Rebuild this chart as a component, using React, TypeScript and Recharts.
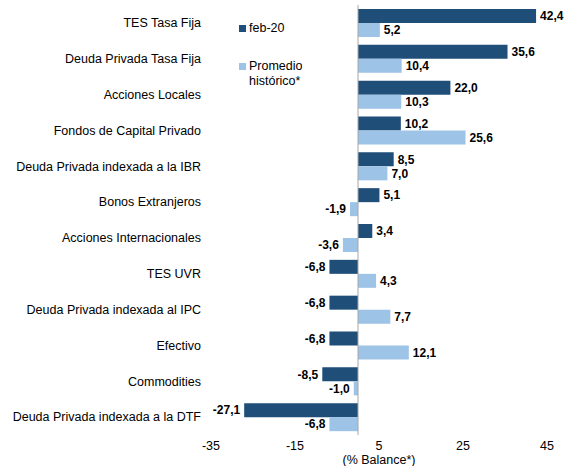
import React from 'react';
import {
  BarChart,
  Bar,
  XAxis,
  YAxis,
  ReferenceLine,
  LabelList,
} from 'recharts';

const categories = [
  'TES Tasa Fija',
  'Deuda Privada Tasa Fija',
  'Acciones Locales',
  'Fondos de Capital Privado',
  'Deuda Privada indexada a la IBR',
  'Bonos Extranjeros',
  'Acciones Internacionales',
  'TES UVR',
  'Deuda Privada indexada al IPC',
  'Efectivo',
  'Commodities',
  'Deuda Privada indexada a la DTF',
];
const feb20 = [42.4, 35.6, 22.0, 10.2, 8.5, 5.1, 3.4, -6.8, -6.8, -6.8, -8.5, -27.1];
const promedio = [5.2, 10.4, 10.3, 25.6, 7.0, -1.9, -3.6, 4.3, 7.7, 12.1, -1.0, -6.8];
const xTicks = [-35, -15, 5, 25, 45];

const DARK = '#1F4E79';
const LIGHT = '#9DC3E6';
const FONT = '"Liberation Sans", Arial, sans-serif';

const data = categories.map((name, i) => ({
  name,
  feb: feb20[i],
  prom: promedio[i],
}));

const fmt = (v: number) => v.toFixed(1).replace('.', ',');

const BarLabel = (props: any) => {
  const { x, y, width, height, value } = props;
  const left = Math.min(x, x + width);
  const right = Math.max(x, x + width);
  const cy = y + height / 2;
  const pos = value >= 0;
  return (
    <text
      x={pos ? right + 4 : left - 4}
      y={cy}
      dy="0.35em"
      textAnchor={pos ? 'start' : 'end'}
      fontSize={12}
      fontWeight="bold"
      fill="#000"
      fontFamily={FONT}
    >
      {fmt(value)}
    </text>
  );
};

const CatTick = (props: any) => {
  const { x, y, payload } = props;
  return (
    <text x={x} y={y} dy="0.35em" textAnchor="end" fontSize={12.5} fill="#000" fontFamily={FONT}>
      {payload.value}
    </text>
  );
};

const LegendBox = () => (
  <div
    style={{
      position: 'absolute',
      left: 239,
      top: 21,
      fontFamily: FONT,
      fontSize: 12.5,
      color: '#000',
      lineHeight: '15px',
    }}
  >
    <div style={{ display: 'flex', alignItems: 'center' }}>
      <span style={{ width: 7, height: 7, background: DARK, marginRight: 3, display: 'inline-block' }} />
      <span>feb-20</span>
    </div>
    <div style={{ display: 'flex', alignItems: 'flex-start', marginTop: 23 }}>
      <span style={{ width: 7, height: 7, background: LIGHT, marginRight: 3, marginTop: 4, display: 'inline-block' }} />
      <span>
        Promedio
        <br />
        histórico*
      </span>
    </div>
  </div>
);

export default function App() {
  return (
    <div style={{ position: 'relative', background: '#fff', width: 566, height: 466 }}>
      <style>{'html, body { margin: 0; padding: 0; overflow: hidden; }'}</style>
      <BarChart
        width={566}
        height={466}
        data={data}
        layout="vertical"
        margin={{ top: 5, right: 19, left: 0, bottom: 0 }}
        barGap={0}
        barSize={14}
      >
        <XAxis
          type="number"
          domain={[-35, 45]}
          ticks={xTicks}
          axisLine={false}
          tickLine={false}
          tickSize={4}
          tick={{ fill: '#000', fontSize: 12.5, fontFamily: FONT }}
          height={31}
          label={{
            value: '(% Balance*)',
            position: 'insideBottom',
            offset: 2,
            fill: '#000',
            fontSize: 12.5,
            fontFamily: FONT,
          }}
        />
        <YAxis
          type="category"
          dataKey="name"
          width={211}
          axisLine={false}
          tickLine={false}
          tickMargin={4}
          interval={0}
          tick={<CatTick />}
        />
        <ReferenceLine x={0} stroke="#A6A6A6" strokeWidth={1} />
        <Bar dataKey="feb" name="feb-20" fill={DARK} isAnimationActive={false}>
          <LabelList dataKey="feb" content={<BarLabel />} />
        </Bar>
        <Bar dataKey="prom" name="Promedio histórico*" fill={LIGHT} isAnimationActive={false}>
          <LabelList dataKey="prom" content={<BarLabel />} />
        </Bar>
      </BarChart>
      <LegendBox />
    </div>
  );
}
